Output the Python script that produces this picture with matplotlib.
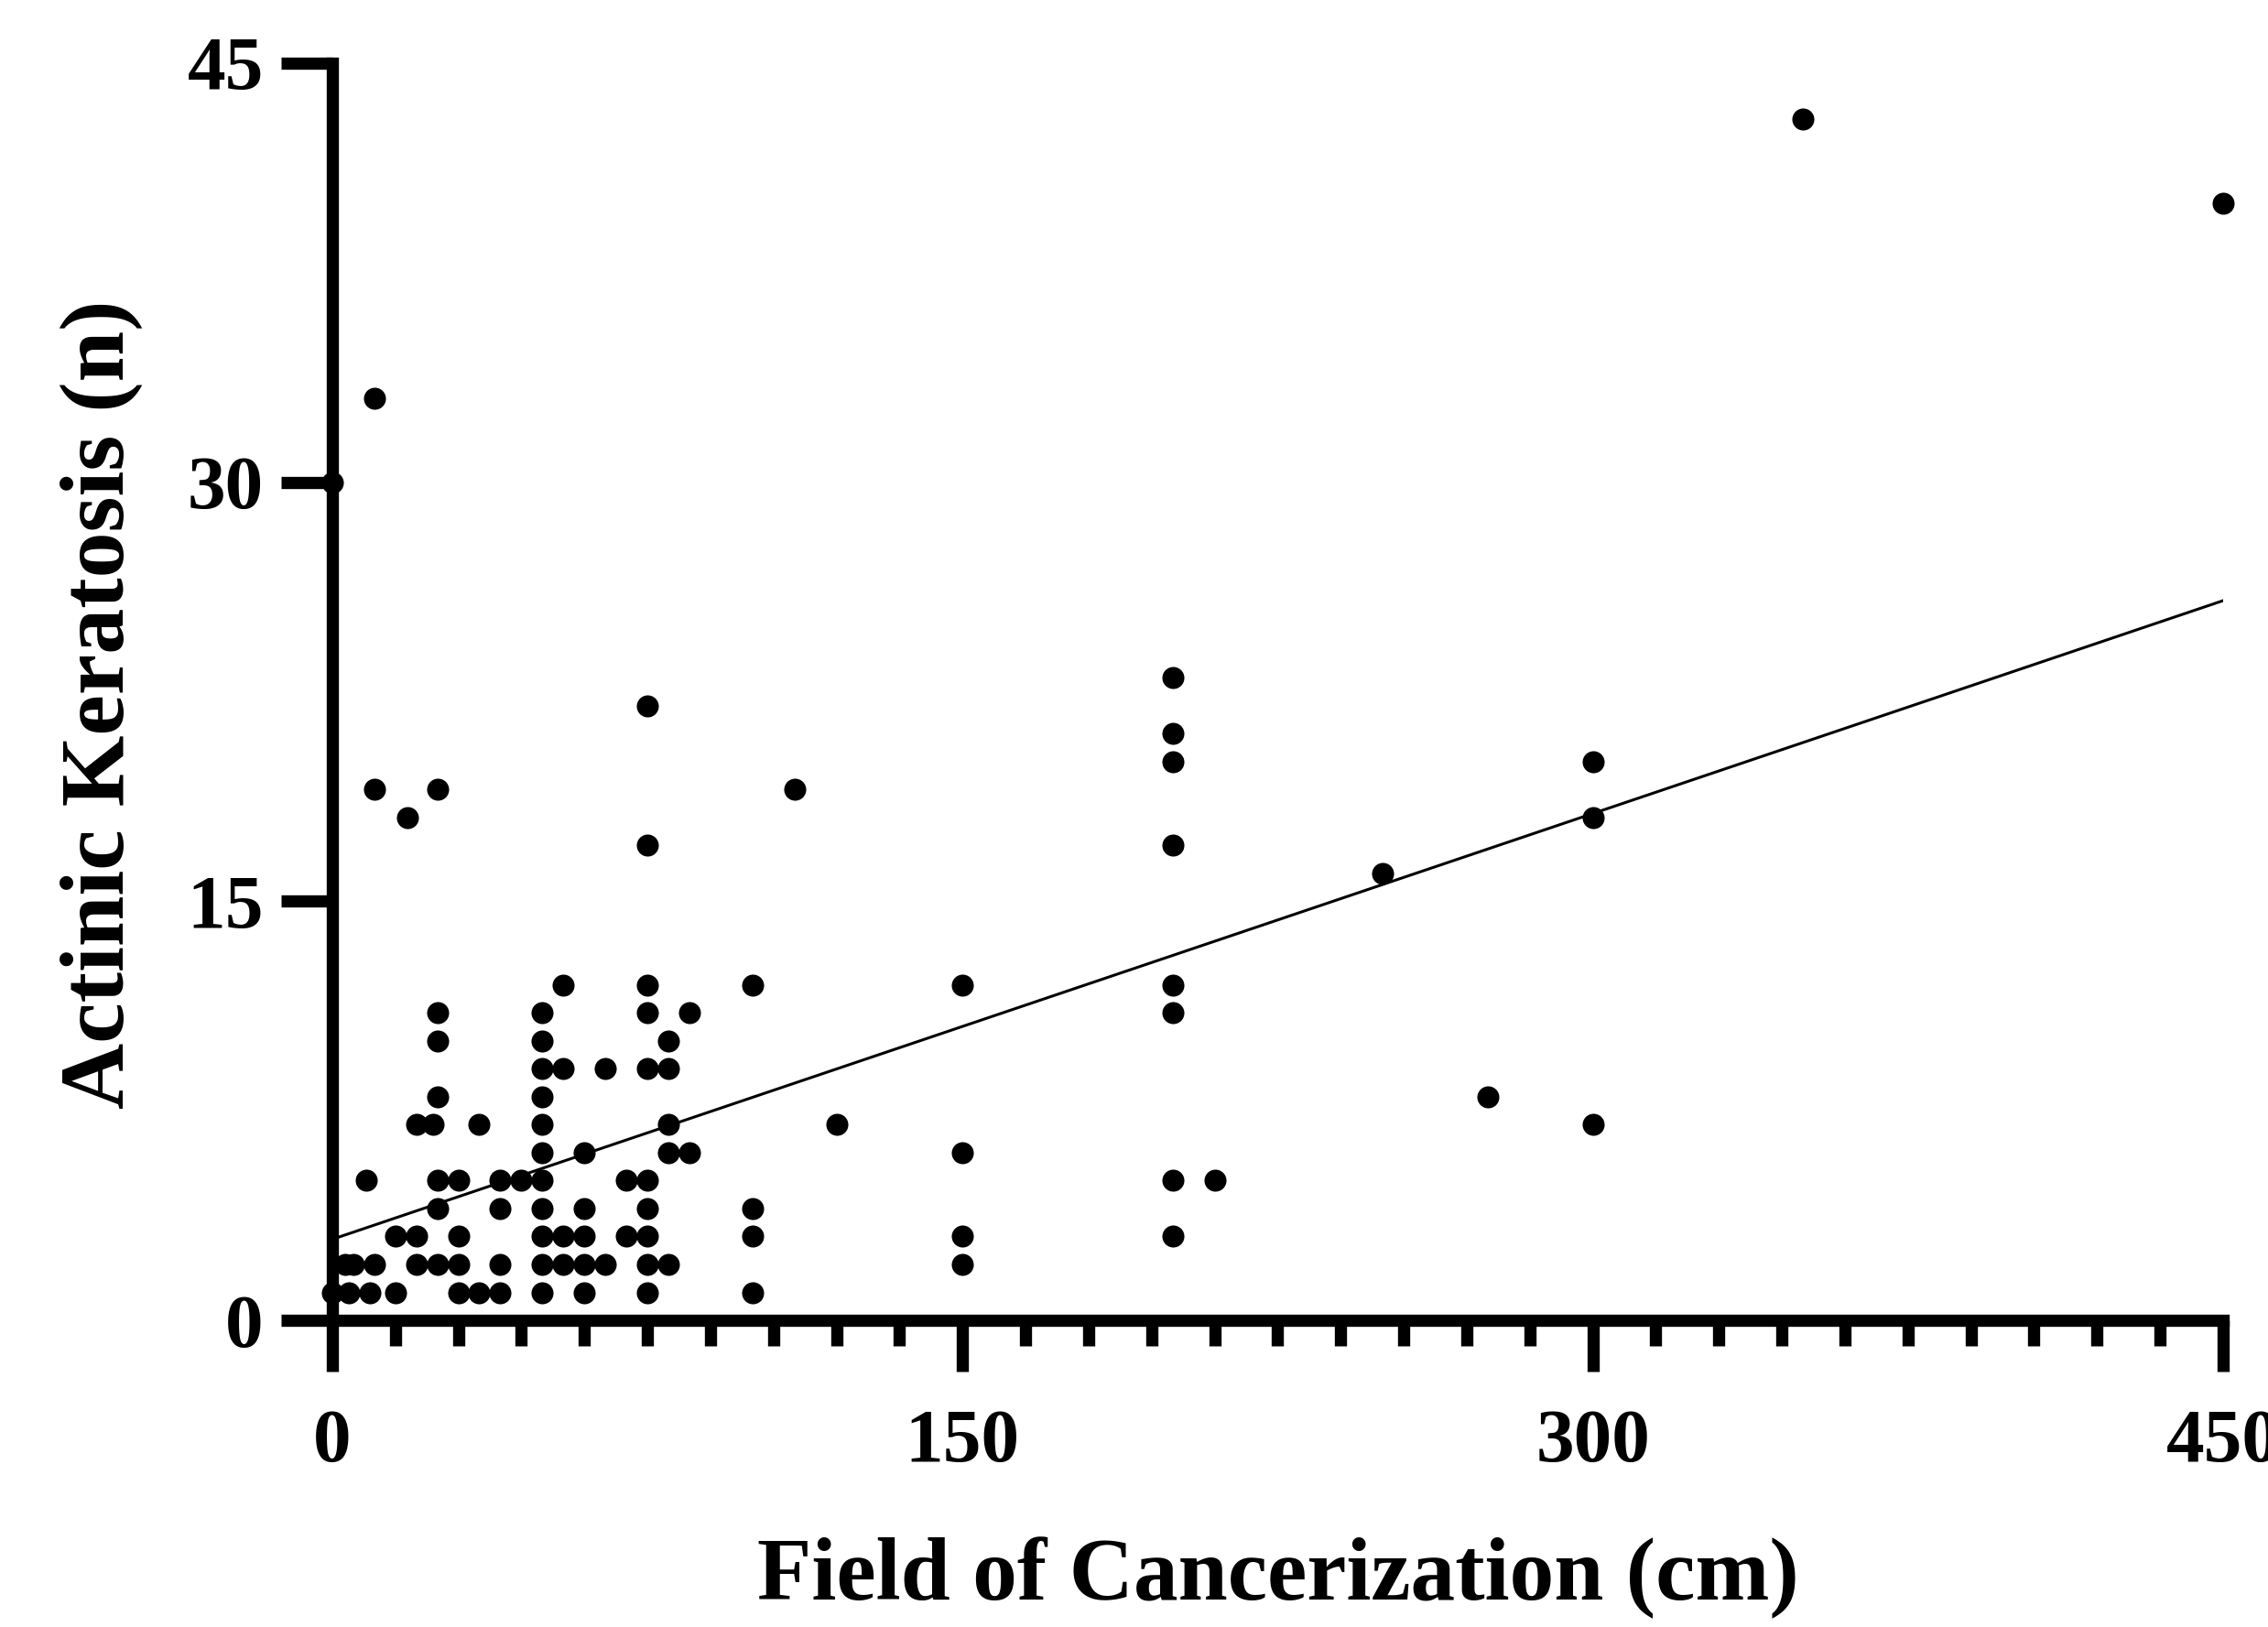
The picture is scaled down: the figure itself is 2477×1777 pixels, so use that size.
import numpy as np
import matplotlib.pyplot as plt

# field of cancerization (cm) vs number of actinic keratoses
field = [0, 10, 10, 18, 25, 75, 75, 110, 350, 450,
         200, 200, 200, 200, 200, 200, 200, 200, 210,
         250, 275, 300, 300, 300,
         100, 150, 120, 150, 100, 100, 150, 150, 100,
         55, 75,
         25, 50, 75, 85,
         25, 50, 80,
         50, 55, 65, 75, 80,
         25, 50,
         20, 24, 35, 50, 80,
         50, 60, 80, 85,
         8, 25, 30, 40, 45, 50, 70, 75,
         25, 40, 50, 60, 75,
         15, 20, 30, 50, 55, 60, 70, 75,
         3, 5, 10, 20, 25, 30, 40, 50, 55, 60, 65, 75, 80,
         0, 4, 9, 15, 30, 35, 40, 50, 60, 75]
ak = [30, 33, 19, 18, 19, 22, 17, 19, 43, 40,
      23, 21, 20, 17, 12, 11, 5, 3, 5,
      16, 8, 20, 18, 7,
      12, 12, 7, 6, 4, 3, 3, 2, 1,
      12, 12,
      11, 11, 11, 11,
      10, 10, 10,
      9, 9, 9, 9, 9,
      8, 8,
      7, 7, 7, 7, 7,
      6, 6, 6, 6,
      5, 5, 5, 5, 5, 5, 5, 5,
      4, 4, 4, 4, 4,
      3, 3, 3, 3, 3, 3, 3, 3,
      2, 2, 2, 2, 2, 2, 2, 2, 2, 2, 2, 2, 2,
      1, 1, 1, 1, 1, 1, 1, 1, 1, 1]

# regression line
fit_intercept = 2.9
fit_slope = 0.0508
fit_range = [0, 450]

x_ticks = [0, 150, 300, 450]
y_ticks = [0, 15, 30, 45]

plt.rcParams['font.family'] = 'Liberation Serif'
plt.rcParams['font.weight'] = 'bold'

fig = plt.figure(figsize=(24.77, 17.77), dpi=100)
ax = fig.add_axes([0.1465, 0.1885, 0.8337, 0.7727])

ax.scatter(field, ak, s=300, color='black', zorder=3, clip_on=False, linewidths=0)

xs = np.array(fit_range)
ax.plot(xs, fit_intercept + fit_slope * xs, color='black', lw=2.2, zorder=2)

ax.set_xlim(0, 450)
ax.set_ylim(0, 45)
ax.set_xticks(x_ticks)
ax.set_xticks(np.arange(0, 451, 15), minor=True)
ax.set_yticks(y_ticks)

for s in ['top', 'right']:
    ax.spines[s].set_visible(False)
for s in ['left', 'bottom']:
    ax.spines[s].set_linewidth(9.6)
    ax.spines[s].set_capstyle('projecting')

ax.tick_params(axis='both', which='major', length=40, width=9.6, labelsize=60)
ax.tick_params(axis='x', which='major', pad=30)
ax.tick_params(axis='y', which='major', pad=14)
ax.tick_params(axis='x', which='minor', length=20, width=9.6)
ax.tick_params(axis='y', which='minor', length=0)

ax.set_xlabel('Field of Cancerization (cm)', fontsize=70, fontweight='bold', va='top')
ax.xaxis.set_label_coords(0.5, -0.172)
ax.set_ylabel('Actinic Keratosis (n)', fontsize=72, fontweight='bold')
ax.yaxis.set_label_coords(-0.10, 0.49)

fig.savefig('out.png', dpi=100)
